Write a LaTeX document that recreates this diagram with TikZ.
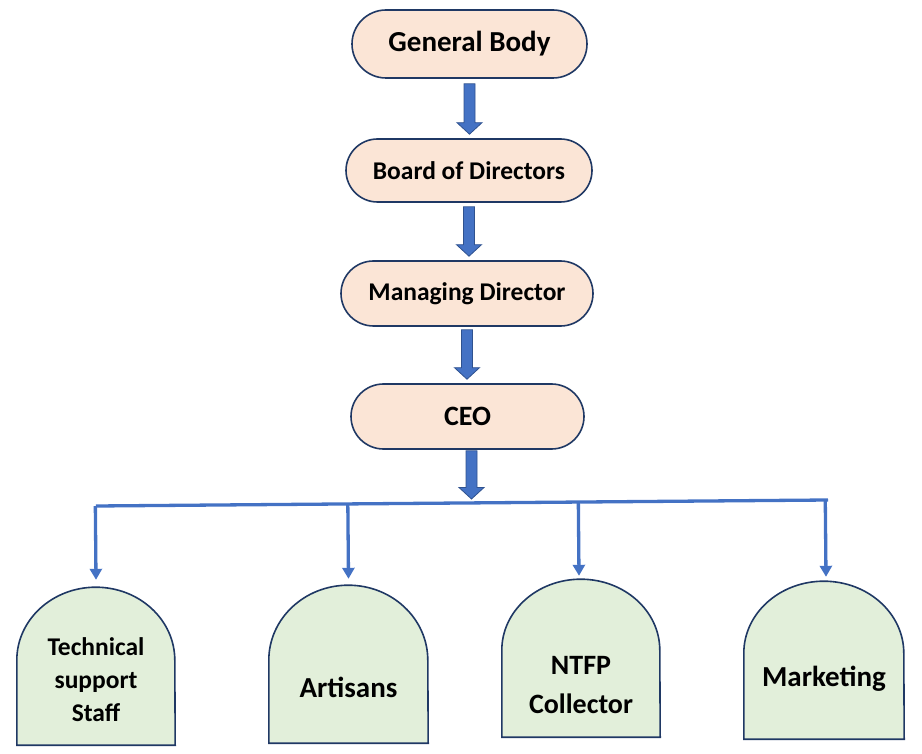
\documentclass[tikz,border=0pt]{standalone}
\usepackage{fontspec}
\setmainfont{Carlito}
\usetikzlibrary{calc,shapes.misc,arrows.meta}
\definecolor{peach}{HTML}{FBE5D6}
\definecolor{mint}{HTML}{E2EFDA}
\definecolor{navy}{HTML}{1F3864}
\definecolor{accblue}{HTML}{4472C4}
\definecolor{accdark}{HTML}{2F528F}
\tikzset{
  pill/.style={rounded rectangle, draw=navy, fill=peach, line width=1.6pt, inner sep=0pt, font=\bfseries},
  boxfit/.style={rectangle, inner sep=0pt, minimum width=#1},
  arch/.style={draw=navy, fill=mint, line width=1.6pt},
  lbl/.style={align=center, font=\bfseries, inner sep=0pt},
  blockfill/.style={fill=accblue, draw=accdark, line width=0.8pt},
  drop/.style={draw=accblue, line width=3.3pt, -{Triangle[width=12pt,length=11pt]}, shorten >=0pt},
  bar/.style={draw=accblue, line width=3.3pt}
}
\newcommand{\blockarr}[3]{% from node #1 (south, shifted #3) to coordinate #2
  \path let \p1=([yshift=-#3]#1.south), \p2=(#2) in
    [blockfill] (\x1-5.5pt,\y1) -- (\x1+5.5pt,\y1) -- (\x1+5.5pt,\y2+11.5pt) -- (\x1+12.5pt,\y2+11.5pt)
    -- (\x1,\y2) -- (\x1-12.5pt,\y2+11.5pt) -- (\x1-5.5pt,\y2+11.5pt) -- cycle;}
\newcommand{\archshape}[4]{% node name, straight height, x radius, y radius
  \draw[arch] (#1.south west) -- ++(0pt,#2) arc[start angle=180,end angle=0,x radius=#3pt,y radius=#4pt] -- (#1.south east) -- cycle;}
\begin{document}
\begin{tikzpicture}[x=1pt,y=-1pt]
\useasboundingbox (0,0) rectangle (922,754);
% top chain
\node[pill, minimum width=235pt, minimum height=68pt, font=\bfseries\fontsize{29}{33}\selectfont] (gb) at (469.5,44) {General Body};
\node[pill, minimum width=246pt, minimum height=63pt, font=\bfseries\fontsize{25.5}{29}\selectfont] (bod) at (469,170.5) {Board of Directors};
\node[pill, minimum width=252pt, minimum height=65pt, font=\bfseries\fontsize{25.5}{29}\selectfont] (md) at (467,293.5) {Managing Director};
\node[pill, minimum width=233pt, minimum height=65pt, font=\bfseries\fontsize{28}{32}\selectfont] (ceo) at (467.5,416.5) {CEO};
% bar
\coordinate (bl) at (96,506);
\coordinate (br) at (828,500);
\coordinate (g1) at ([yshift=4pt]bod.north -| gb.south);
\coordinate (g2) at ([yshift=4pt]md.north -| bod.south);
\coordinate (g3) at ([yshift=4pt]ceo.north -| md.south);
\coordinate (g4) at (471.5,499);
\blockarr{gb}{g1}{5pt}
\blockarr{bod}{g2}{4pt}
\blockarr{md}{g3}{3pt}
\path let \p1=(ceo.south), \p2=(g4) in
    [blockfill] (\x2-5.5pt,\y1-1pt) -- (\x2+5.5pt,\y1-1pt) -- (\x2+5.5pt,\y2+11.5pt) -- (\x2+12.5pt,\y2+11.5pt)
    -- (\x2,\y2) -- (\x2-12.5pt,\y2+11.5pt) -- (\x2-5.5pt,\y2+11.5pt) -- cycle;
\draw[bar] (bl) -- (br);
% bottom shapes
\node[boxfit=158pt, minimum height=158pt] (tech) at (96,666) {};
\archshape{tech}{85pt}{79}{73}
\node[boxfit=159pt, minimum height=158pt] (art) at (348.5,664) {};
\archshape{art}{83pt}{79.5}{75}
\node[boxfit=158pt, minimum height=158pt] (ntfp) at (581,658) {};
\archshape{ntfp}{87pt}{79}{71}
\node[boxfit=160pt, minimum height=158pt] (mkt) at (824,660) {};
\archshape{mkt}{86pt}{80}{72}
\node[lbl, font=\bfseries\fontsize{25.5}{33}\selectfont] (techt) at (96,680) {Technical\\support\\Staff};
\node[lbl, font=\bfseries\fontsize{29}{33}\selectfont] (artt) at (348.5,687) {Artisans};
\node[lbl, font=\bfseries\fontsize{28}{39}\selectfont] (ntfpt) at (581,685) {NTFP\\Collector};
\node[lbl, font=\bfseries\fontsize{29}{33}\selectfont] (mktt) at (824,679) {Marketing};
% drops
\draw[drop] ($(bl)!(tech.north)!(br)$) -- ([yshift=7pt]tech.north);
\draw[drop] ($(bl)!(art.north)!(br)$) -- ([yshift=6pt]art.north);
\draw[drop] ($(bl)!([xshift=-2pt]ntfp.north)!(br)$) -- ([xshift=-2pt,yshift=3pt]ntfp.north);
\draw[drop] ($(bl)!([xshift=2pt]mkt.north)!(br)$) -- ([xshift=2pt,yshift=4pt]mkt.north);
\end{tikzpicture}
\end{document}
